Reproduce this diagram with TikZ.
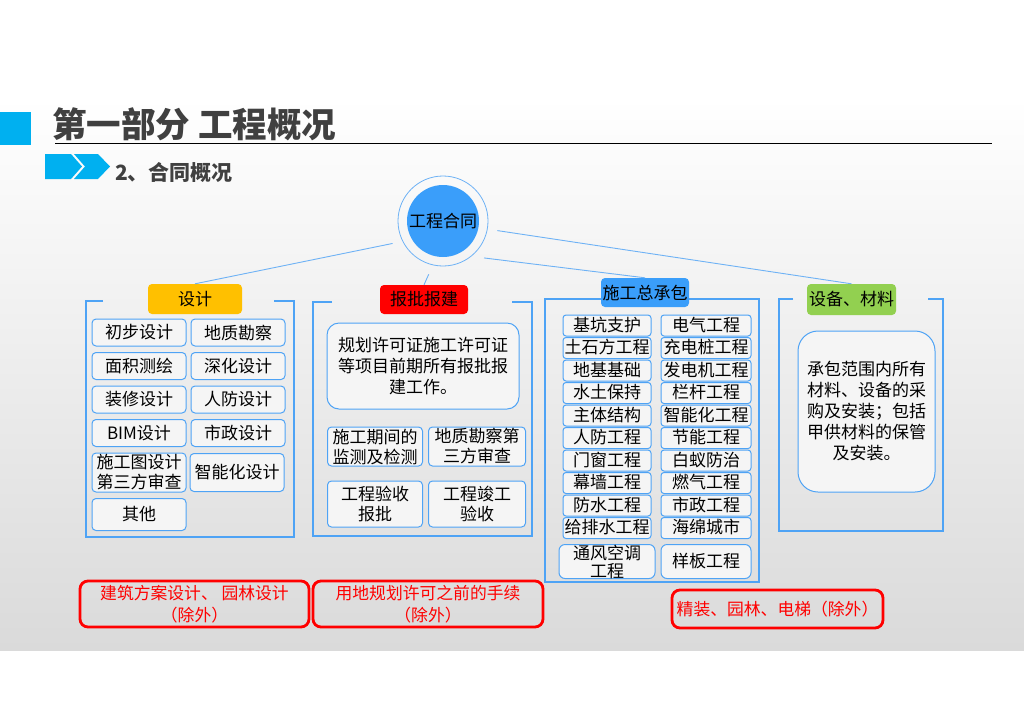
\documentclass[tikz,border=0pt]{standalone}
\usepackage{fontspec}
\setmainfont{Noto Sans CJK SC}
\usepackage{xcolor}
\usetikzlibrary{positioning}
\definecolor{hubblue}{RGB}{58,158,250}
\definecolor{linkblue}{RGB}{110,178,245}
\definecolor{edgeblue}{RGB}{78,163,245}
\definecolor{tagorange}{RGB}{255,192,0}
\definecolor{taggreen}{RGB}{146,208,80}
\definecolor{accent}{RGB}{0,176,240}
\definecolor{titlegray}{RGB}{64,64,64}
\definecolor{slidegray}{RGB}{218,218,218}
\definecolor{boxbg}{RGB}{245,245,245}

\begin{document}
\begin{tikzpicture}[x=1pt, y=-1pt,
  node distance=1.5pt,
  item/.style={rectangle, rounded corners=4pt, draw=edgeblue, line width=1pt, fill=boxbg,
               inner sep=0pt, outer sep=0pt, align=center, font=\fontsize{17}{20}\selectfont},
  dsgn/.style={item, minimum width=94pt, minimum height=27pt},
  permitbox/.style={item, minimum width=95pt},
  build/.style={item, rounded corners=3pt, minimum width=88pt, minimum height=21pt,
                text height=14pt, text depth=2.5pt},
  tag/.style={rectangle, rounded corners=4pt, inner sep=0pt, minimum height=30pt,
              font=\fontsize{17}{20}\selectfont},
  note/.style={item, rounded corners=14pt, font=\fontsize{17}{21}\selectfont},
  excl/.style={rectangle, rounded corners=8pt, draw=red, line width=2.8pt, text=red,
               align=center, inner sep=0pt, font=\fontsize{16.8}{22}\selectfont},
  link/.style={linkblue, line width=0.9pt},
  frame/.style={edgeblue, line width=1.3pt}
]
\useasboundingbox (0,0) rectangle (1024,724);
\fill[white] (0,0) rectangle (1024,724);
\shade[top color=white, bottom color=slidegray] (0,97) rectangle (1024,650);

% header
\fill[accent] (0,112) rectangle (31,145);
\node[anchor=west, inner sep=0pt, text=titlegray, font=\fontsize{34.5}{34.5}\selectfont\bfseries]
  (title) at (52,124) {第一部分 工程概况};
\draw[black, line width=0.8pt] (55,143) -- (992,143);
\fill[accent] (45,154) -- (71,154) -- (82,166.5) -- (71,179) -- (45,179) -- cycle;
\fill[accent] (74,154) -- (98,154) -- (110,166.5) -- (98,179) -- (74,179) -- (85,166.5) -- cycle;
\node[anchor=west, inner sep=0pt, text=titlegray, font=\fontsize{21}{21}\selectfont\bfseries]
  (sub) at (115,172) {2、合同概况};

% hub
\node[circle, draw=linkblue, line width=0.8pt, minimum size=90pt, inner sep=0pt] (ring) at (443,221) {};
\node[circle, fill=hubblue, minimum size=72pt, inner sep=0pt, font=\fontsize{17}{20}\selectfont]
  (hub) at (ring) {工程合同};
\node[circle, minimum size=110pt, inner sep=0pt] (reach) at (ring) {};

% group frames
\draw[frame] (103,301) -- (86,301) -- (86,537) -- (294,537) -- (294,301) -- (274,301);
\draw[frame] (332,302) -- (313,302) -- (313,536) -- (532,536) -- (532,302) -- (512,302);
\draw[frame] (601,299) -- (545,299) -- (545,582) -- (759,582) -- (759,299) -- (689,299);
\draw[frame] (793,299) -- (779,299) -- (779,531) -- (943,531) -- (943,299) -- (928,299);

% tags
\node[tag, fill=tagorange, minimum width=94pt] (design) at (195,299) {设计};
\node[tag, fill=red, minimum width=88pt, minimum height=29pt] (permit) at (424,299.5) {报批报建};
\node[tag, fill=hubblue, minimum width=88pt, minimum height=29pt] (contractor) at (645,292.5) {施工总承包};
\node[tag, fill=taggreen, minimum width=89pt, minimum height=31pt] (supply) at (851.5,299.5) {设备、材料};

\draw[link] (reach.204) -- (design.north);
\draw[link] (reach.255) -- (permit.north);
\draw[link] (reach.318) -- (contractor.north);
\draw[link] (reach.350) -- (supply.north);

% design
\node[dsgn] (d1) at (139,332.5) {初步设计};
\node[dsgn, right=5pt of d1] (d2) {地质勘察};
\node[dsgn, below=6.5pt of d1] (d3) {面积测绘};
\node[dsgn, right=5pt of d3] (d4) {深化设计};
\node[dsgn, below=6.5pt of d3] (d5) {装修设计};
\node[dsgn, right=5pt of d5] (d6) {人防设计};
\node[dsgn, below=6.5pt of d5] (d7) {BIM设计};
\node[dsgn, right=5pt of d7] (d8) {市政设计};
\node[dsgn, minimum height=39pt, below=6.5pt of d7] (d9) {施工图设计\\第三方审查};
\node[dsgn, minimum height=38pt, right=4pt of d9] (d10) {智能化设计};
\node[dsgn, minimum height=32pt, below=6.5pt of d9] (d11) {其他};

% permits
\node[note, rounded corners=12pt, minimum width=192pt, minimum height=86pt] (p0) at (423,366)
  {规划许可证施工许可证\\等项目前期所有报批报\\建工作。};
\node[permitbox, minimum height=39pt] (p1) at (375,446.5) {施工期间的\\监测及检测};
\node[permitbox, minimum width=97pt, minimum height=39pt, right=6pt of p1] (p2) {地质勘察第\\三方审查};
\node[permitbox, minimum height=46pt, below=15pt of p1] (p3) {工程验收\\报批};
\node[permitbox, minimum width=97pt, minimum height=46pt, right=6pt of p3] (p4) {工程竣工\\验收};

% general contractor
\node[build] (b1) at (607,325.5) {基坑支护};
\node[build, below=of b1] (b2) {土石方工程};
\node[build, below=of b2] (b3) {地基基础};
\node[build, below=of b3] (b4) {水土保持};
\node[build, below=of b4] (b5) {主体结构};
\node[build, below=of b5] (b6) {人防工程};
\node[build, below=of b6] (b7) {门窗工程};
\node[build, below=of b7] (b8) {幕墙工程};
\node[build, below=of b8] (b9) {防水工程};
\node[build, below=of b9] (b10) {给排水工程};
\node[item, rounded corners=6pt, minimum width=96pt, minimum height=34pt, font=\fontsize{17}{18}\selectfont,
      below=6pt of b10] (b11) {通风空调\\工程};
\node[build, minimum width=90pt, right=10pt of b1] (c1) {电气工程};
\node[build, minimum width=90pt, below=of c1] (c2) {充电桩工程};
\node[build, minimum width=90pt, below=of c2] (c3) {发电机工程};
\node[build, minimum width=90pt, below=of c3] (c4) {栏杆工程};
\node[build, minimum width=90pt, below=of c4] (c5) {智能化工程};
\node[build, minimum width=90pt, below=of c5] (c6) {节能工程};
\node[build, minimum width=90pt, below=of c6] (c7) {白蚁防治};
\node[build, minimum width=90pt, below=of c7] (c8) {燃气工程};
\node[build, minimum width=90pt, below=of c8] (c9) {市政工程};
\node[build, minimum width=90pt, below=of c9] (c10) {海绵城市};
\node[build, rounded corners=6pt, minimum width=90pt, minimum height=34pt, below=6pt of c10] (c11) {样板工程};

% equipment and materials
\node[note, rounded corners=20pt, minimum width=137pt, minimum height=161pt] (scope) at (866.5,411.5)
  {承包范围内所有\\材料、设备的采\\购及安装；包括\\甲供材料的保管\\及安装。};

% exclusions
\node[excl, minimum width=229pt, minimum height=46pt] (x1) at (194.5,604) {建筑方案设计、 园林设计\\（除外）};
\node[excl, minimum width=230pt, minimum height=46pt] (x2) at (428,604) {用地规划许可之前的手续\\（除外）};
\node[excl, minimum width=211pt, minimum height=38pt] (x3) at (777.5,609) {精装、园林、电梯（除外）};
\end{tikzpicture}
\end{document}
